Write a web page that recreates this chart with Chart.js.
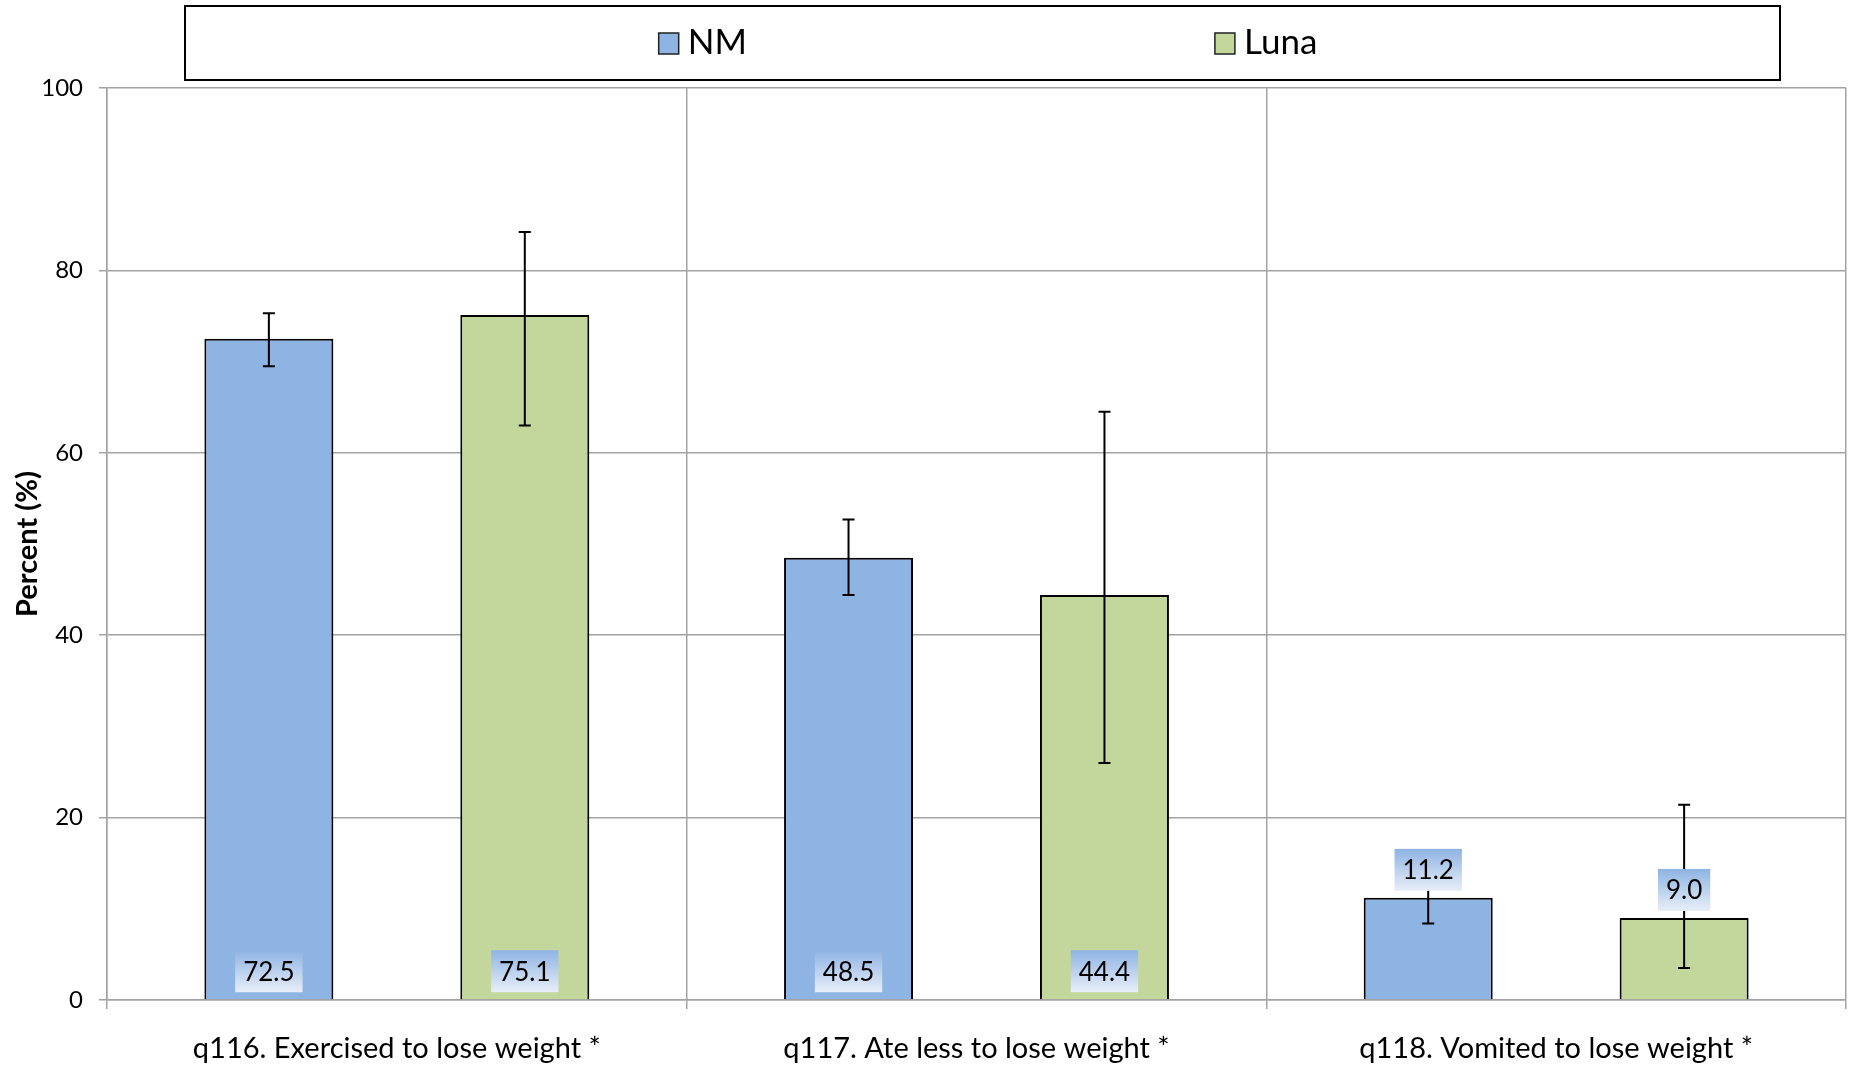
<!DOCTYPE html>
<html><head><meta charset="utf-8">
<script src="https://cdn.jsdelivr.net/npm/chart.js@4.4.0/dist/chart.umd.min.js"></script>
<style>html,body{margin:0;padding:0;background:#fff;} #wrap{width:1851px;height:1070px;position:relative;}</style>
</head><body><div id="wrap"><canvas id="c" width="1851" height="1070"></canvas></div>
<script>
const categories = ['q116. Exercised to lose weight *', 'q117. Ate less to lose weight *', 'q118. Vomited to lose weight *'];
const seriesNames = ['NM', 'Luna'];
const nmValues = [72.5, 48.5, 11.2];
const lunaValues = [75.1, 44.4, 9.0];
const nmLower = [69.5, 44.4, 8.4];
const nmUpper = [75.3, 52.7, 14.0];
const lunaLower = [63.0, 26.0, 3.5];
const lunaUpper = [84.2, 64.5, 21.4];
const yTicks = [0, 20, 40, 60, 80, 100];

const FONT = 'Lato, "Open Sans", sans-serif';
const GRID = '#a3a3a3';
const errLows = [nmLower, lunaLower];
const errHighs = [nmUpper, lunaUpper];

const extrasPlugin = {
  id: 'extras',
  afterDatasetsDraw(chart) {
    const ctx = chart.ctx;
    const y = chart.scales.y;
    chart.data.datasets.forEach((ds, di) => {
      const meta = chart.getDatasetMeta(di);
      meta.data.forEach((bar, i) => {
        const x = bar.x;
        const yl = y.getPixelForValue(errLows[di][i]);
        const yh = y.getPixelForValue(errHighs[di][i]);
        ctx.save();
        ctx.strokeStyle = '#000';
        ctx.lineWidth = 2;
        ctx.beginPath();
        ctx.moveTo(x, yl); ctx.lineTo(x, yh);
        ctx.moveTo(x - 6, yl); ctx.lineTo(x + 6, yl);
        ctx.moveTo(x - 6, yh); ctx.lineTo(x + 6, yh);
        ctx.stroke();
        ctx.restore();
      });
    });
    chart.data.datasets.forEach((ds, di) => {
      const meta = chart.getDatasetMeta(di);
      meta.data.forEach((bar, i) => {
        const txt = ds.data[i].toFixed(1);
        ctx.save();
        ctx.font = '26px ' + FONT;
        const tw = ctx.measureText(txt).width;
        const bw = tw + 16, bh = 42;
        const base = bar.base, top = bar.y;
        let bottom;
        if (base - top > 150) bottom = base - 7; else bottom = top - 7;
        const bx = bar.x - bw / 2, by = bottom - bh;
        const g = ctx.createLinearGradient(0, by, 0, by + bh);
        g.addColorStop(0, '#8eb3e3');
        g.addColorStop(1, '#e8eef8');
        ctx.fillStyle = g;
        ctx.fillRect(bx, by, bw, bh);
        ctx.fillStyle = '#000';
        ctx.textAlign = 'center';
        ctx.textBaseline = 'middle';
        ctx.fillText(txt, bar.x, by + bh / 2 + 1);
        ctx.restore();
      });
    });
  },
  afterDraw(chart) {
    const ctx = chart.ctx;
    ctx.save();
    ctx.strokeStyle = '#000';
    ctx.lineWidth = 2;
    ctx.strokeRect(185, 6, 1595, 74);
    ctx.font = '35px ' + FONT;
    ctx.textBaseline = 'middle';
    const sw = 20, gap = 9, itemGap = 468;
    const items = chart.data.datasets.map(ds => ({label: ds.label, color: ds.backgroundColor, w: sw + gap + ctx.measureText(ds.label).width}));
    let total = items.reduce((a, it) => a + it.w, 0) + itemGap * (items.length - 1);
    let x = 988 - total / 2;
    const cy = 43;
    items.forEach(it => {
      ctx.fillStyle = it.color;
      ctx.fillRect(x, cy - 10, sw, 21);
      ctx.strokeStyle = '#222';
      ctx.lineWidth = 1.5;
      ctx.strokeRect(x, cy - 10, sw, 21);
      ctx.fillStyle = '#000';
      ctx.textAlign = 'left';
      ctx.fillText(it.label, x + sw + gap, cy);
      x += it.w + itemGap;
    });
    ctx.restore();
  }
};

new Chart(document.getElementById('c'), {
  type: 'bar',
  data: {
    labels: categories,
    datasets: [
      {label: seriesNames[0], data: nmValues, backgroundColor: '#8eb4e3', borderColor: '#000', borderWidth: 2},
      {label: seriesNames[1], data: lunaValues, backgroundColor: '#c3d69b', borderColor: '#000', borderWidth: 2}
    ]
  },
  options: {
    responsive: false,
    animation: false,
    devicePixelRatio: 1,
    layout: {padding: {top: 88, right: 5, left: 0, bottom: 0}},
    plugins: {legend: {display: false}, tooltip: {enabled: false}},
    datasets: {bar: {categoryPercentage: 0.883, barPercentage: 0.504}},
    scales: {
      x: {
        grid: {offset: true, color: GRID, lineWidth: 1.5, tickLength: 9, drawTicks: true},
        border: {color: GRID, width: 1.5},
        ticks: {color: '#000', font: {family: FONT, size: 29}, padding: 22, maxRotation: 0, autoSkip: false},
        afterFit(s) { s.height = 70; }
      },
      y: {
        min: 0, max: 100,
        afterBuildTicks(s) { s.ticks = yTicks.map(v => ({value: v})); },
        grid: {color: GRID, lineWidth: 1.5, tickLength: 8},
        border: {color: GRID, width: 1.5},
        ticks: {color: '#000', font: {family: FONT, size: 24}, padding: 16},
        title: {display: true, text: 'Percent (%)', color: '#000', font: {family: FONT, size: 29, weight: 'bold'}, padding: {top: 10, bottom: 0}},
        afterFit(s) { s.width = 107; }
      }
    }
  },
  plugins: [extrasPlugin]
});
</script></body></html>
